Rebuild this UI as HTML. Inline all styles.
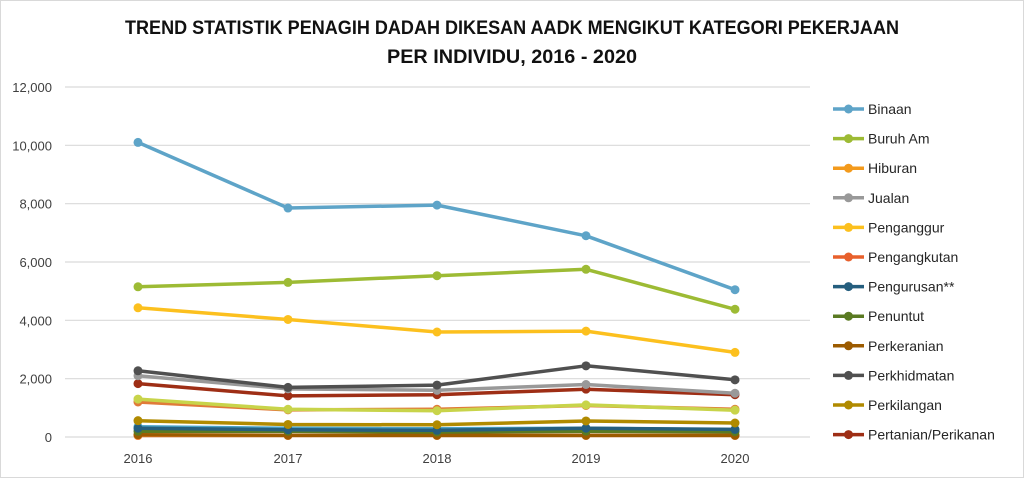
<!DOCTYPE html>
<html><head><meta charset="utf-8"><style>
html,body{margin:0;padding:0;background:#fff;}
svg{display:block;font-family:"Liberation Sans",sans-serif;}
</style></head><body>
<svg id="c" width="1024" height="478" viewBox="0 0 1024 478" xmlns="http://www.w3.org/2000/svg">
<rect x="0.5" y="0.5" width="1023" height="477" fill="#fff" stroke="#d9d9d9"/>
<text x="512" y="34" text-anchor="middle" font-size="19" font-weight="bold" fill="#111" textLength="774" lengthAdjust="spacingAndGlyphs">TREND STATISTIK PENAGIH DADAH DIKESAN AADK MENGIKUT KATEGORI PEKERJAAN</text>
<text x="512" y="63" text-anchor="middle" font-size="19" font-weight="bold" fill="#111" textLength="250" lengthAdjust="spacingAndGlyphs">PER INDIVIDU, 2016 - 2020</text>
<g id="grid"></g><g id="series"></g><g id="legend"></g>
</svg>
<script>
var ns="http://www.w3.org/2000/svg";
function el(t,a,txt,p){var e=document.createElementNS(ns,t);for(var k in a)e.setAttribute(k,a[k]);if(txt)e.textContent=txt;p.appendChild(e);return e;}
var g=document.getElementById('grid'),s=document.getElementById('series'),L=document.getElementById('legend');
function Y(v){return 437-v*350/12000;}
var xs=[138,288,437,586,735];
for(var i=0;i<=6;i++){var v=i*2000,y=Y(v);
el('line',{x1:65,x2:810,y1:y,y2:y,stroke:'#d9d9d9','stroke-width':1.2},null,g);
el('text',{x:52,y:y+5,'text-anchor':'end','font-size':13,fill:'#404040'},v==0?'0':v.toLocaleString('en-US'),g);}
var yrs=['2016','2017','2018','2019','2020'];
xs.forEach(function(x,i){el('text',{x:x,y:463,'text-anchor':'middle','font-size':13,fill:'#404040'},yrs[i],g);});
var S=[
['#e07b39',[1200,930,950,1080,950],null],
['#c8d44a',[1300,950,900,1100,920],null],
['#4aa3c8',[350,300,280,300,250],null],
['#ed7d31',[50,50,50,50,50],'Hiburan'],
['#9c5b00',[80,60,60,60,60],'Perkeranian'],
['#5a7a22',[200,200,170,200,180],'Penuntut'],
['#255e7e',[300,250,230,300,260],'Pengurusan**'],
['#b08a00',[560,430,420,550,480],'Perkilangan'],
['#9e2e15',[1830,1410,1450,1640,1450],'Pertanian/Perikanan'],
['#999999',[2100,1650,1600,1800,1500],'Jualan'],
['#505050',[2270,1700,1780,2440,1960],'Perkhidmatan'],
['#fcc01e',[4430,4030,3600,3630,2900],'Penganggur'],
['#9dbb34',[5150,5300,5530,5750,4380],'Buruh Am'],
['#5ea4c8',[10100,7850,7950,6900,5050],'Binaan']];
S.forEach(function(r){var pts=r[1].map(function(v,i){return xs[i]+','+Y(v).toFixed(1);}).join(' ');
el('polyline',{points:pts,fill:'none',stroke:r[0],'stroke-width':3.5,'stroke-linejoin':'round'},null,s);
r[1].forEach(function(v,i){el('circle',{cx:xs[i],cy:Y(v),r:4.5,fill:r[0]},null,s);});});
var leg=[['#5ea4c8','Binaan'],['#9dbb34','Buruh Am'],['#f39a1c','Hiburan'],['#999999','Jualan'],['#fcc01e','Penganggur'],['#e8602c','Pengangkutan'],['#255e7e','Pengurusan**'],['#5a7a22','Penuntut'],['#9c5b00','Perkeranian'],['#505050','Perkhidmatan'],['#b08a00','Perkilangan'],['#9e2e15','Pertanian/Perikanan']];
leg.forEach(function(r,i){var y=109+i*29.6;
el('line',{x1:833,x2:864,y1:y,y2:y,stroke:r[0],'stroke-width':3.5},null,L);
el('circle',{cx:848.5,cy:y,r:4.5,fill:r[0]},null,L);
el('text',{x:868,y:y+5,'font-size':14,fill:'#262626'},r[1],L);});
</script>
</body></html>
